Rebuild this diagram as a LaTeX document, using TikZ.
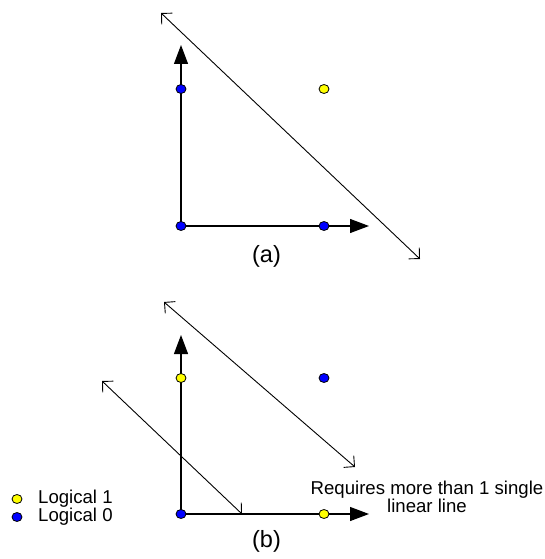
\documentclass[tikz,border=0pt]{standalone}
\usepackage{fontspec}
\setmainfont{Liberation Sans}
\usepackage{tikz}
\usetikzlibrary{shapes.geometric, arrows.meta}
\definecolor{logicyellow}{HTML}{FFFF00}
\definecolor{logicblue}{HTML}{0000FF}

\begin{document}
\begin{tikzpicture}[
    x=1pt, y=-1pt,
    dot/.style={ellipse, draw=black, line width=0.8pt, inner sep=0pt,
               minimum width=10pt, minimum height=9pt},
    one/.style={dot, fill=logicyellow},
    zero/.style={dot, fill=logicblue},
    axis/.style={line width=1.2pt, -{Triangle[length=19pt, width=14pt]}},
    sep/.style={line width=0.9pt,
               {Straight Barb[angle=90:11pt]}-{Straight Barb[angle=90:11pt]}},
    tag/.style={font=\fontsize{23.5}{23.5}\selectfont, inner sep=0pt},
    note/.style={font=\fontsize{18.6}{17}\selectfont, inner sep=0pt, align=center}
]
\useasboundingbox (0,0) rectangle (544,559);

% Plot (a)
\coordinate (a-origin) at (181,226);
\coordinate (a-ytip) at (181,45);
\coordinate (a-xtip) at (369,226);
\coordinate (a-start) at (161,13);
\coordinate (a-end) at (420,259);
\draw[axis] (a-origin) -- (a-ytip);
\draw[axis] (a-origin) -- (a-xtip);
\draw[sep] (a-start) -- (a-end);
\node[zero] at (181,89) (a-01) {};
\node[zero] at (181,226) (a-00) {};
\node[zero] at (324,226) (a-10) {};
\node[one] at (324,89) (a-11) {};
\node[tag] at (266.5,256) (a-tag) {(a)};

% Plot (b)
\coordinate (b-origin) at (181,514);
\coordinate (b-ytip) at (181,335);
\coordinate (b-xtip) at (369,514);
\coordinate (b-start1) at (164,302);
\coordinate (b-end1) at (355,467);
\coordinate (b-start2) at (102,381);
\coordinate (b-end2) at (242,514);
\draw[axis] (b-origin) -- (b-ytip);
\draw[axis] (b-origin) -- (b-xtip);
\draw[sep] (b-start1) -- (b-end1);
\draw[sep] (b-start2) -- (b-end2);
\node[one] at (181,378) (b-01) {};
\node[zero] at (181,514) (b-00) {};
\node[one] at (324,514) (b-10) {};
\node[zero] at (324,378) (b-11) {};
\node[tag] at (266.5,541.5) (b-tag) {(b)};
\node[note] at (427,497) (remark) {Requires more than 1 single\\linear line};

% Legend
\node[one] at (17,499) (key-one) {};
\node[zero] at (17,517) (key-zero) {};
\node[note, anchor=base west] at (38,503) (key-one-text) {Logical 1};
\node[note, anchor=base west] at (38,521.5) (key-zero-text) {Logical 0};

\end{tikzpicture}
\end{document}
